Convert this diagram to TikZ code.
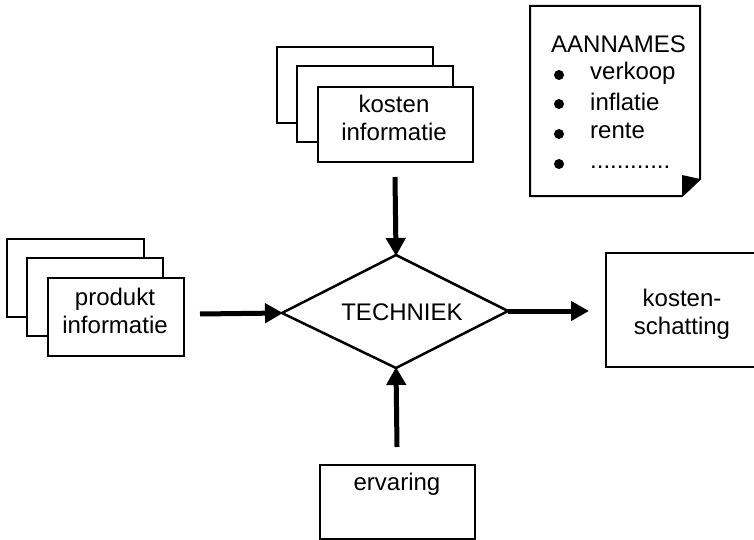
\documentclass[tikz,border=0pt]{standalone}
\usepackage{fontspec}
\setmainfont{Liberation Sans}
\usetikzlibrary{arrows.meta}
\tikzset{
  card/.style={draw=black, line width=2pt, fill=white},
  txt/.style={font=\fontsize{24}{28}\selectfont, inner sep=0pt, align=center},
  flow/.style={line width=5pt, -{Triangle[length=18pt,width=19pt]}, shorten >=-1pt},
  bul/.style={circle, fill=black, inner sep=0pt, minimum size=10pt}
}
\begin{document}
\begin{tikzpicture}[x=1pt,y=-1pt]
\useasboundingbox (0,0) rectangle (754,540);
% kosten informatie stack
\draw[card] (277,47) rectangle (433,123);
\draw[card] (297,66) rectangle (453,142);
\node[card, minimum width=155pt, minimum height=75pt, anchor=north west] (kib) at (317,86) {};
\node[txt] (ki) at (394,118) {kosten\\informatie};
% produkt informatie stack
\draw[card] (7,239) rectangle (144,317);
\draw[card] (27,258) rectangle (163,336);
\node[card, minimum width=136pt, minimum height=78pt, anchor=north west] (pib) at (47,277) {};
\node[txt] (pi) at (115,311) {produkt\\informatie};
% diamond
\coordinate (dl) at (282,313);
\coordinate (dt) at (396,255);
\coordinate (dr) at (508,311);
\coordinate (db) at (396,368);
\draw[line width=2.5pt, line join=miter, fill=white] (dl) -- (dt) -- (dr) -- (db) -- cycle;
\node[txt] (tech) at (402,312) {TECHNIEK};
% kostenschatting
\draw[card] (760,253) -- (606,253) -- (606,367) -- (760,367);
\node[txt] (ks) at (682,314) {kosten-\\schatting};
% ervaring
\node[card, minimum width=155pt, minimum height=74pt, anchor=north west] (erb) at (319,464) {};
\node[txt] (er) at (397,484) {ervaring};
% aannames page
\draw[line width=2pt, line join=miter] (530,6) -- (700,6) -- (700,179) -- (682,196) -- (530,196) -- cycle;
\fill[black] (682,175) -- (700,179) -- (682,196) -- cycle;
\node[txt, anchor=west] (aan) at (551,44) {AANNAMES};
\node[bul] (b1) at (559,75) {};
\node[bul] (b2) at (559,104) {};
\node[bul] (b3) at (559,134) {};
\node[bul] (b4) at (559,164) {};
\node[txt, anchor=west] (v1) at (590,73) {verkoop};
\node[txt, anchor=west] (v2) at (590,102) {inflatie};
\node[txt, anchor=west] (v3) at (590,131) {rente};
\node[txt, anchor=base west] (v4) at (590,168) {............};
% arrows
\coordinate (pa) at (200,314);
\coordinate (ka) at (395,177);
\coordinate (ra) at (588,311);
\coordinate (ea) at (397,447);
\draw[flow] (pa) -- (dl);
\draw[flow] (ka) -- (dt);
\draw[flow] (dr) -- (ra);
\draw[flow] (ea) -- (db);
\end{tikzpicture}
\end{document}
